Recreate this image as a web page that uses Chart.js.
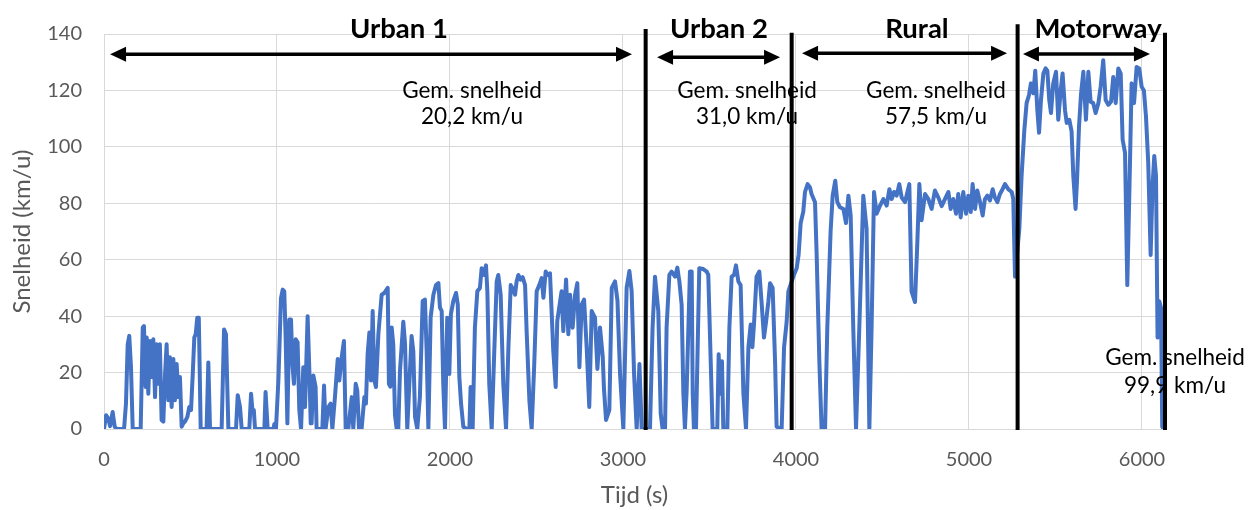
<!DOCTYPE html>
<html>
<head>
<meta charset="utf-8">
<script src="https://cdn.jsdelivr.net/npm/chart.js@4"></script>
<style>
  body { margin: 0; background: #fff; }
  canvas { display: block; }
</style>
</head>
<body>
<canvas id="myChart" width="1248" height="510"></canvas>
<script>
// snelheidsprofiel (tijd in s, snelheid in km/u)
const tijd = [
  0, 12, 25, 35, 50, 62, 73, 116, 127, 137, 146, 156, 166, 212, 224, 231, 241, 247, 256, 266,
  276, 285, 295, 304, 314, 323, 333, 343, 353, 362, 372, 381, 391, 401, 410, 420, 430, 439, 449, 458,
  468, 482, 493, 503, 513, 522, 530, 539, 548, 559, 593, 603, 613, 680, 694, 705, 719, 763, 773, 786,
  796, 840, 850, 858, 866, 873, 927, 934, 946, 979, 985, 994, 1008, 1023, 1033, 1042, 1050, 1060, 1071, 1081,
  1089, 1098, 1108, 1119, 1129, 1139, 1152, 1162, 1177, 1187, 1195, 1200, 1210, 1223, 1229, 1262, 1272, 1281, 1297, 1310,
  1320, 1335, 1351, 1360, 1374, 1387, 1397, 1412, 1432, 1441, 1455, 1464, 1474, 1489, 1505, 1514, 1524, 1534, 1543, 1553,
  1563, 1572, 1586, 1605, 1620, 1640, 1647, 1655, 1663, 1672, 1682, 1692, 1701, 1711, 1730, 1740, 1753, 1765, 1778, 1788,
  1798, 1811, 1826, 1842, 1855, 1865, 1875, 1888, 1904, 1919, 1933, 1942, 1952, 1961, 1971, 1984, 1996, 2005, 2019, 2035,
  2045, 2054, 2064, 2077, 2096, 2112, 2119, 2131, 2144, 2158, 2173, 2183, 2197, 2208, 2216, 2227, 2241, 2256, 2270, 2279,
  2293, 2308, 2324, 2337, 2351, 2362, 2376, 2385, 2395, 2408, 2420, 2434, 2443, 2459, 2472, 2487, 2501, 2516, 2530, 2540,
  2553, 2565, 2578, 2597, 2611, 2620, 2645, 2655, 2671, 2684, 2694, 2709, 2723, 2736, 2748, 2761, 2775, 2790, 2805, 2819,
  2838, 2852, 2867, 2883, 2890, 2902, 2921, 2935, 2954, 2968, 2983, 3002, 3021, 3037, 3050, 3064, 3079, 3095, 3108, 3146,
  3156, 3171, 3185, 3204, 3218, 3229, 3243, 3252, 3268, 3281, 3301, 3314, 3326, 3339, 3349, 3358, 3368, 3387, 3397, 3403,
  3410, 3422, 3441, 3464, 3484, 3493, 3507, 3518, 3545, 3553, 3561, 3572, 3580, 3603, 3615, 3628, 3642, 3653, 3667, 3680,
  3696, 3711, 3725, 3738, 3748, 3757, 3772, 3788, 3801, 3815, 3827, 3840, 3850, 3865, 3879, 3888, 3917, 3931, 3946, 3956,
  3988, 4004, 4015, 4027, 4042, 4052, 4067, 4081, 4090, 4110, 4119, 4135, 4148, 4168, 4181, 4200, 4212, 4227, 4239, 4254,
  4274, 4289, 4303, 4316, 4331, 4347, 4366, 4389, 4408, 4424, 4437, 4451, 4466, 4486, 4505, 4524, 4540, 4553, 4567, 4582,
  4597, 4611, 4630, 4655, 4668, 4688, 4701, 4713, 4726, 4746, 4765, 4784, 4803, 4823, 4842, 4861, 4881, 4894, 4909, 4925,
  4938, 4952, 4967, 4983, 4996, 5010, 5021, 5035, 5048, 5064, 5079, 5092, 5106, 5121, 5137, 5150, 5164, 5179, 5194, 5208,
  5227, 5247, 5256, 5266, 5291, 5304, 5320, 5333, 5347, 5358, 5372, 5383, 5395, 5405, 5416, 5430, 5443, 5453, 5464, 5474,
  5487, 5503, 5516, 5530, 5541, 5555, 5565, 5580, 5593, 5603, 5616, 5624, 5636, 5648, 5661, 5676, 5690, 5703, 5718, 5732,
  5748, 5761, 5776, 5790, 5805, 5821, 5834, 5848, 5863, 5877, 5888, 5902, 5915, 5927, 5940, 5954, 5969, 5984, 5998, 6011,
  6023, 6036, 6050, 6061, 6071, 6081, 6090, 6100, 6110, 6117, 6125
]
const snelheid = [
  0, 4.9, 3.7, 1, 6, 0.8, 0, 0, 9, 30, 33, 21.9, 0, 0, 36, 36.5, 14.9, 32.4, 12.5, 31.2,
  18.4, 31.8, 11.3, 30, 16, 30, 3.2, 2.6, 19.5, 30, 10.2, 25.4, 7.8, 24.8, 10.2, 23, 11.3, 18.4, 0.8, 2,
  2.6, 4.3, 7.8, 6.7, 19.5, 32.4, 33.6, 39.4, 39.4, 0, 0, 23.6, 0, 0, 35.3, 33.6, 0, 0, 12, 7.8,
  0, 0, 12.5, 6.7, 6.7, 0, 0, 13.1, 0, 0, 1.8, 0, 17.2, 46.4, 49.4, 48.8, 32.4, 2, 38.8, 38.8,
  23, 16, 31.8, 30.7, 6.7, 0, 21.9, 7.8, 40, 20.7, 2, 2, 19, 14.9, 0, 0, 15.4, 0, 7.8, 9,
  0, 11.3, 24.8, 17.2, 25.4, 31.2, 0, 0, 11.3, 0, 16, 13.7, 0, 0, 11.3, 9, 26.6, 34.2, 17.2, 41.8,
  17.2, 14.9, 33.6, 47.6, 48.2, 50, 16, 15, 36, 30, 5, 0, 0, 20.7, 38, 30.4, 0, 16, 33, 27.5,
  4.3, 0, 11.3, 45.3, 45.9, 27.7, 0, 39.4, 47.6, 51, 51.7, 43, 41.8, 16, 0, 39.4, 19.5, 40.6, 45.3, 48.2,
  44.1, 18.4, 9, 0.8, 0, 0, 14.9, 0, 36, 48.8, 50, 57, 54.6, 58, 48.8, 16, 0, 27.7, 52.3, 54.6,
  47.6, 16, 0, 27.7, 51, 49.8, 47.6, 52.3, 54.6, 52.9, 53.8, 51, 34.7, 10, 0, 23, 48.8, 51, 53.5, 46.5,
  55.8, 54.6, 55.2, 27.7, 14.9, 38.3, 48.8, 34.7, 53, 33.6, 47.6, 35.9, 47.6, 51.7, 21.9, 44.1, 45.9, 28.9, 7.8, 41.8,
  39.5, 21.3, 36, 25.5, 14.3, 3.2, 6.7, 50, 52.3, 45.5, 19.5, 0, 50, 56, 48.8, 19.5, 0, 23, 0, 0,
  0, 36, 54, 41.8, 5.5, 0, 0, 36, 54.6, 55.8, 54, 57.2, 52.3, 44, 12.5, 0, 13.7, 55.8, 55.8, 12.5,
  0, 0, 57, 56.7, 55.8, 54.6, 24, 0, 0, 26.5, 12.5, 24, 0, 0, 36, 54, 54.6, 58, 52.3, 51,
  12.5, 0, 29, 37, 29, 37, 54, 55.8, 45, 32.4, 38, 45, 51.7, 50, 24, 0.8, 0, 29, 38, 48.8,
  54.6, 57, 61.7, 73, 77, 84, 86.8, 85.6, 83.3, 80.4, 62.8, 24, 0, 0, 36, 70, 82.7, 88, 80.4, 78.6,
  78, 73, 82.7, 75.7, 36, 0, 36, 82.7, 71, 0, 36, 84, 76.3, 79.2, 81.5, 79.2, 85, 81.5, 84, 82.7,
  86.8, 82, 80.4, 86.8, 48.8, 45, 65.5, 86.8, 74, 83.3, 81.5, 78, 84.5, 82, 79, 81.5, 84, 78, 81.5, 76.3,
  83.3, 75, 84, 76.3, 82.7, 76.9, 86.8, 78, 84.5, 80.4, 75.7, 81.5, 82.7, 81, 85, 82, 80.4, 83.3, 85, 86.8,
  85, 84, 81.5, 54, 71, 89.7, 106, 115.5, 118.4, 122.5, 119, 127, 113, 105, 116.6, 126, 127.8, 127, 116.6, 112,
  122.5, 126.6, 109.6, 120, 126, 113, 108.5, 109.6, 105.5, 89.7, 78, 87.4, 107.3, 119, 126.6, 109.6, 126.6, 116, 115.5, 112,
  115.5, 121.3, 130.7, 116.6, 114.9, 116, 124.8, 115.5, 127.8, 126, 102.6, 97.9, 51, 84, 122.5, 115.5, 128.3, 127.8, 121.3, 120,
  110.8, 94.4, 61.7, 86.2, 96.8, 89.7, 32.4, 45.3, 43, 0.8, 0
]
const tijdTicks = [0, 1000, 2000, 3000, 4000, 5000, 6000]
const snelheidTicks = [0, 20, 40, 60, 80, 100, 120, 140]
const tijdMax = 6133

// fasen van de rit
const fasen = ['Urban 1', 'Urban 2', 'Rural', 'Motorway']
const faseGrenzen = [3131, 3975, 5281, 6133]
const gemSnelheid = ['20,2', '31,0', '57,5', '99,9']

const fontFam = 'Lato, "Liberation Sans", sans-serif'
const grijs = '#595959'

const ritPlugin = {
  id: 'rit',
  afterDatasetsDraw(chart) {
    const ctx = chart.ctx
    const sx = chart.scales.x
    const sy = chart.scales.y
    const px = t => sx.getPixelForValue(t)
    const py = v => sy.getPixelForValue(v)
    ctx.save()

    // gemiddelde snelheden
    const gemPos = [[2127, 120, 110.5], [3717, 120, 110.5], [4809, 120, 110.5], [6191, 25.3, 15.4]]
    ctx.fillStyle = '#000'
    ctx.font = '22.5px ' + fontFam
    ctx.textAlign = 'center'
    ctx.textBaseline = 'middle'
    gemPos.forEach((p, i) => {
      ctx.fillText('Gem. snelheid', px(p[0]), py(p[1]))
      ctx.fillText(gemSnelheid[i] + ' km/u', px(p[0]), py(p[2]))
    })

    // verticale grenzen
    const lijnTop = [141.8, 140.4, 143.5, 140.4]
    ctx.strokeStyle = '#000'
    ctx.lineWidth = 4
    faseGrenzen.forEach((t, i) => {
      ctx.beginPath()
      ctx.moveTo(px(t), py(lijnTop[i]))
      ctx.lineTo(px(t), py(0) + 1)
      ctx.stroke()
    })

    // pijlen
    const pijlen = [[35, 3052, 132.8], [3197, 3908, 131.8], [4035, 5220, 133.2], [5312, 6046, 132.9]]
    ctx.lineWidth = 3.5
    pijlen.forEach(p => {
      const x1 = px(p[0]), x2 = px(p[1]), y = py(p[2])
      const h = 16, w = 7.5
      ctx.beginPath()
      ctx.moveTo(x1 + h - 2, y)
      ctx.lineTo(x2 - h + 2, y)
      ctx.stroke()
      ctx.beginPath()
      ctx.moveTo(x1, y); ctx.lineTo(x1 + h, y - w); ctx.lineTo(x1 + h, y + w); ctx.closePath()
      ctx.fill()
      ctx.beginPath()
      ctx.moveTo(x2, y); ctx.lineTo(x2 - h, y - w); ctx.lineTo(x2 - h, y + w); ctx.closePath()
      ctx.fill()
    })

    // fasenamen
    const naamPos = [1705, 3555, 4699, 5746]
    ctx.font = 'bold 27.5px ' + fontFam
    ctx.textBaseline = 'alphabetic'
    fasen.forEach((n, i) => {
      ctx.fillText(n, px(naamPos[i]), py(138.5))
    })
    ctx.restore()
  }
}

const ctx = document.getElementById('myChart').getContext('2d')
const chart = new Chart(ctx, {
  type: 'scatter',
  data: {
    datasets: [{
      label: 'Snelheid',
      data: tijd.map((t, i) => ({ x: t, y: snelheid[i] })),
      showLine: true,
      borderColor: '#4472C4',
      backgroundColor: '#4472C4',
      borderWidth: 4,
      borderJoinStyle: 'round',
      borderCapStyle: 'round',
      pointRadius: 0,
      tension: 0
    }]
  },
  options: {
    responsive: false,
    animation: false,
    devicePixelRatio: 1,
    layout: { padding: { top: 30, right: 83, left: 0, bottom: 0 } },
    plugins: { legend: { display: false }, tooltip: { enabled: false } },
    scales: {
      x: {
        type: 'linear',
        min: 0,
        max: tijdMax,
        afterBuildTicks: s => { s.ticks = tijdTicks.map(v => ({ value: v })) },
        afterFit: s => { s.height = 81 },
        ticks: { color: grijs, font: { family: fontFam, size: 20 }, padding: 19, callback: v => String(v) },
        grid: { color: '#d9d9d9', drawTicks: false },
        border: { display: false },
        title: { display: true, text: 'Tijd (s)', color: grijs, font: { family: fontFam, size: 24 }, padding: { top: 0, bottom: 0 } }
      },
      y: {
        min: 0,
        max: 140,
        afterBuildTicks: s => { s.ticks = snelheidTicks.map(v => ({ value: v })) },
        afterFit: s => { s.width = 104 },
        ticks: { color: grijs, font: { family: fontFam, size: 20 }, padding: 22, callback: v => String(v) },
        grid: { color: '#d9d9d9', drawTicks: false },
        border: { display: false },
        title: { display: true, text: 'Snelheid (km/u)', color: grijs, font: { family: fontFam, size: 24 }, padding: { top: 8, bottom: 0 } }
      }
    }
  },
  plugins: [ritPlugin]
})
</script>
</body>
</html>
